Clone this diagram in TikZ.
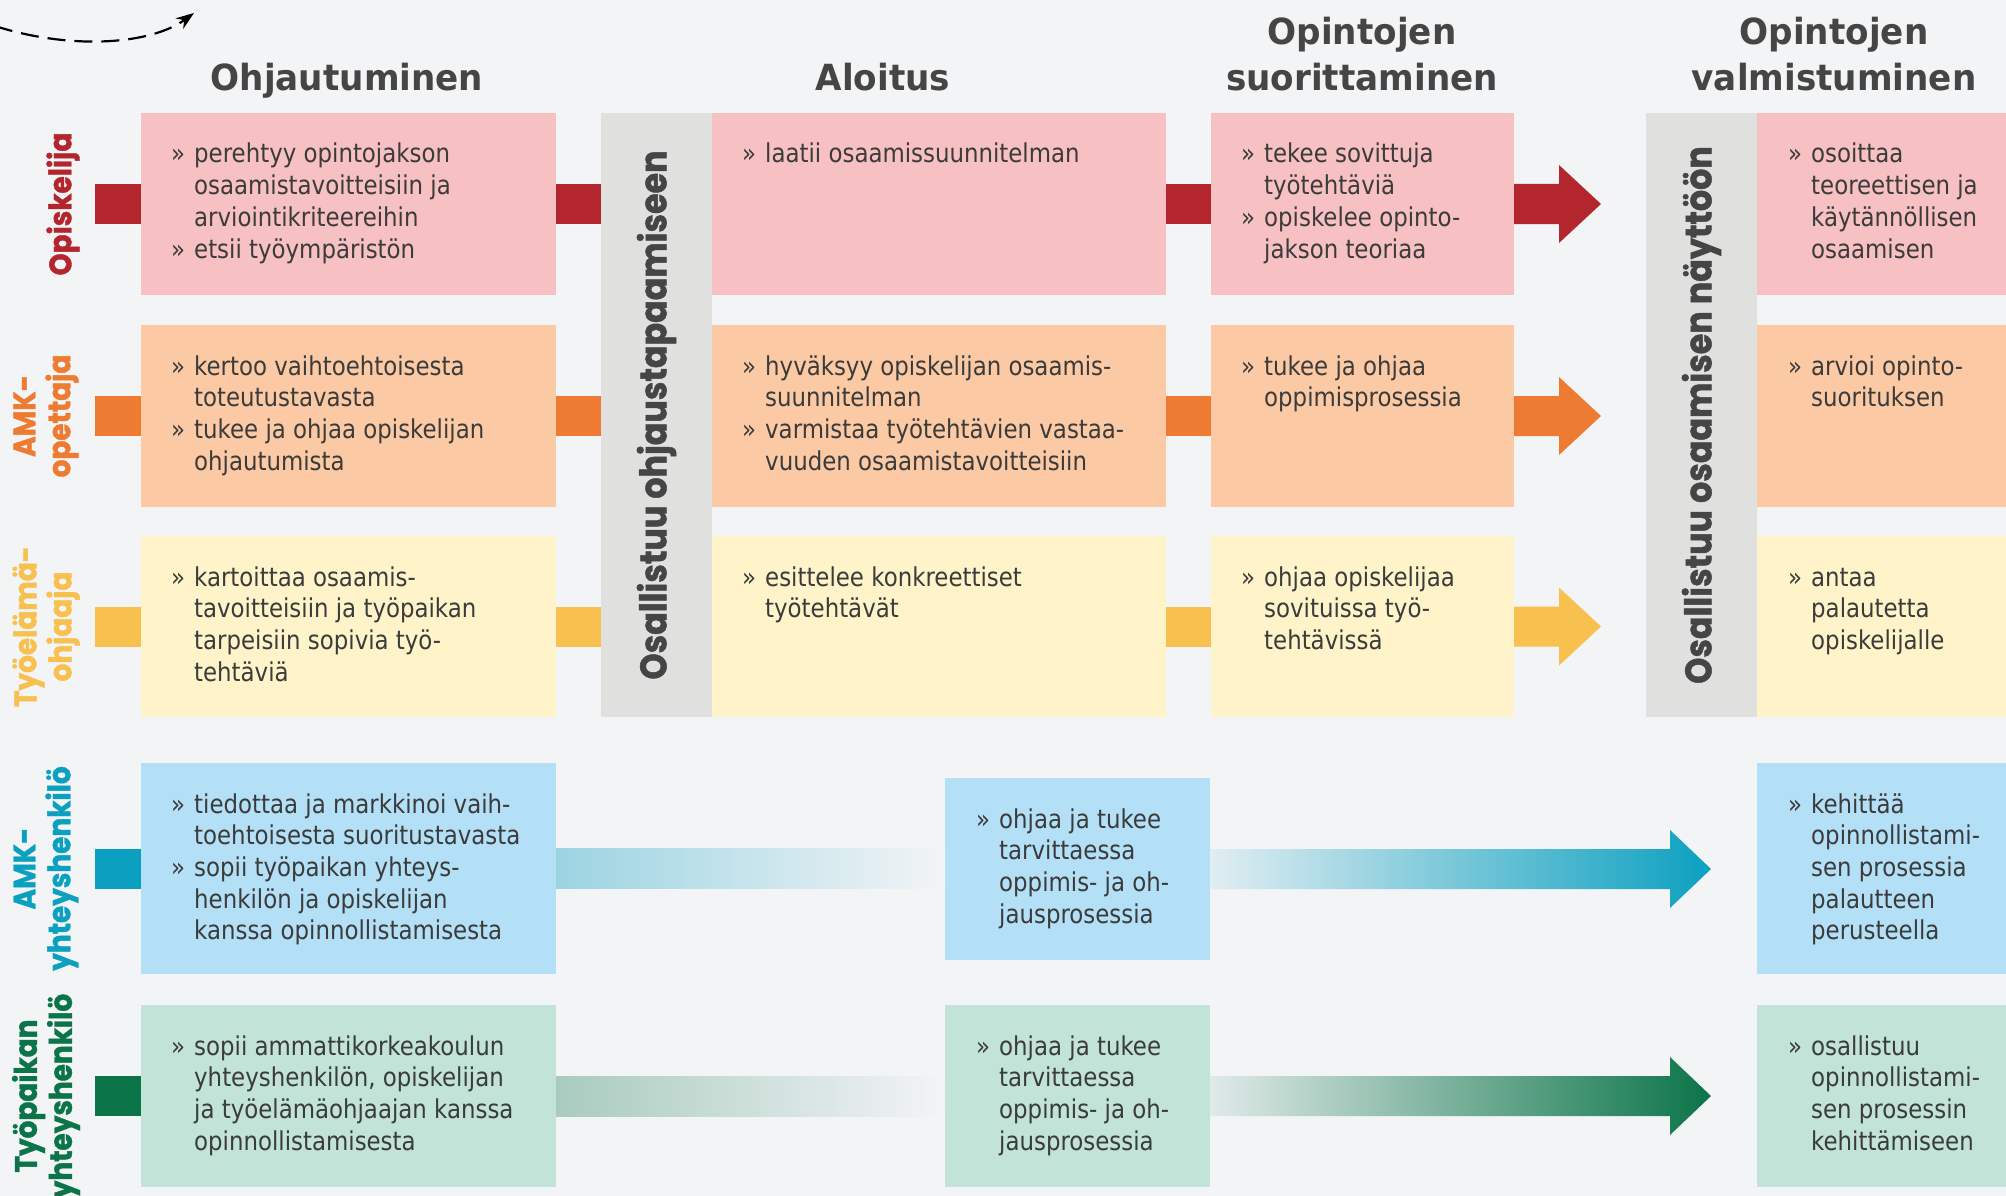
\documentclass[tikz,border=0pt]{standalone}
\usepackage{fontspec}
\usetikzlibrary{calc,arrows.meta}
\newfontfamily\bodyfont[FakeStretch=0.88]{DejaVu Sans}
\newfontfamily\headfont[FakeStretch=0.95]{DejaVu Sans}
\newfontfamily\labfont[FakeStretch=0.9,FakeBold=1.3]{Poppins}
\definecolor{bg}{HTML}{F3F4F6}
\definecolor{cred}{HTML}{B3262D}
\definecolor{cpink}{HTML}{F7C0C2}
\definecolor{corange}{HTML}{EE7B32}
\definecolor{cpeach}{HTML}{FBCAA5}
\definecolor{cyellow}{HTML}{F8C04F}
\definecolor{ccream}{HTML}{FFF4C9}
\definecolor{cteal}{HTML}{0CA0C0}
\definecolor{cblue}{HTML}{B3E0F6}
\definecolor{cgreen}{HTML}{0B7449}
\definecolor{cmint}{HTML}{C1E3D8}
\definecolor{cgray}{HTML}{E0E0DF}
\definecolor{ctext}{HTML}{3B3B3B}
\definecolor{chead}{HTML}{454545}
\newcommand\bitem[1]{\hbox{\makebox[23pt][l]{»}#1}}
\newcommand\citem[1]{\hbox{\hspace*{23pt}#1}}
\newcommand\itemsbox[1]{\vtop{\baselineskip=31.7pt\lineskiplimit=-100pt\lineskip=0pt #1}}
\newcommand\ctwo[2]{\vtop{\baselineskip=46pt\halign{\hfil##\hfil\cr#1\cr#2\cr}}}
\tikzset{
  box/.style={inner sep=0pt, outer sep=0pt, draw=none, anchor=north west},
  txt/.style={anchor=base west, inner sep=0pt, text=ctext, font=\bodyfont\fontsize{26}{31.7}\selectfont},
  head/.style={anchor=base, inner sep=0pt, text=chead, font=\headfont\bfseries\fontsize{36}{46}\selectfont},
  lab/.style={inner sep=0pt, rotate=90, align=center, font=\labfont\bfseries\fontsize{31}{35}\selectfont},
  bar/.style={inner sep=0pt, rotate=90, text=chead, font=\labfont\bfseries\fontsize{37}{44}\selectfont},
}
\newcommand\conn[3]{\fill[#1] ($(#2.east)+(0,-20)$) rectangle ($(#3.west |- #2.east)+(0,20)$);}
\newcommand\lconn[3]{\fill[#1] ($(#2)+(0,-20)$) rectangle ($(#3.west)+(0,20)$);}
\newcommand\arr[2]{\fill[#1] ($(#2.east)+(0,-20)$) -- ++(45,0) -- ++(0,-19) -- ++(42,39) -- ++(-42,39) -- ++(0,-19) -- ++(-45,0) -- cycle;}
\begin{document}
\begin{tikzpicture}[x=1pt,y=-1pt]
\useasboundingbox (0,0) rectangle (2006,1196);
\fill[bg] (0,0) rectangle (2006,1196);

% dashed arrow
\coordinate (ds) at (-5,26);
\coordinate (de) at (194,13);
\draw[dash pattern=on 18pt off 9pt, line width=2.2pt, -{Stealth[length=18pt,width=13pt]}] (ds) .. controls (70,50) and (150,45) .. (de);

% headers
\node[head] (h1) at (347,91) {Ohjautuminen};
\node[head] (h2) at (883,91) {Aloitus};
\node[head] (h3) at (1362,45) {\ctwo{Opintojen}{suorittaminen}};
\node[head] (h4) at (1834,45) {\ctwo{Opintojen}{valmistuminen}};

% gray bars
\node[box, fill=cgray, minimum width=111, minimum height=604] (g1) at (601,113) {};
\node[box, fill=cgray, minimum width=111, minimum height=604] (g2) at (1646,113) {};
\node[bar] (g1t) at (g1.center) {Osallistuu ohjaustapaamiseen};
\node[bar] (g2t) at (g2.center) {Osallistuu osaamisen näyttöön};

% row 1
\node[box, fill=cpink, minimum width=415, minimum height=182] (r1c1) at (141,113) {};
\node[box, fill=cpink, minimum width=454, minimum height=182] (r1c2) at (712,113) {};
\node[box, fill=cpink, minimum width=303, minimum height=182] (r1c3) at (1211,113) {};
\node[box, fill=cpink, minimum width=249, minimum height=182] (r1c4) at (1757,113) {};
% row 2
\node[box, fill=cpeach, minimum width=415, minimum height=182] (r2c1) at (141,325) {};
\node[box, fill=cpeach, minimum width=454, minimum height=182] (r2c2) at (712,325) {};
\node[box, fill=cpeach, minimum width=303, minimum height=182] (r2c3) at (1211,325) {};
\node[box, fill=cpeach, minimum width=249, minimum height=182] (r2c4) at (1757,325) {};
% row 3
\node[box, fill=ccream, minimum width=415, minimum height=181] (r3c1) at (141,536) {};
\node[box, fill=ccream, minimum width=454, minimum height=181] (r3c2) at (712,536) {};
\node[box, fill=ccream, minimum width=303, minimum height=181] (r3c3) at (1211,536) {};
\node[box, fill=ccream, minimum width=249, minimum height=181] (r3c4) at (1757,536) {};
% row 4
\node[box, fill=cblue, minimum width=415, minimum height=211] (r4c1) at (141,763) {};
\node[box, fill=cblue, minimum width=265, minimum height=182] (m4) at (945,778) {};
\node[box, fill=cblue, minimum width=249, minimum height=211] (r4c4) at (1757,763) {};
% row 5
\node[box, fill=cmint, minimum width=415, minimum height=182] (r5c1) at (141,1005) {};
\node[box, fill=cmint, minimum width=265, minimum height=182] (m5) at (945,1005) {};
\node[box, fill=cmint, minimum width=249, minimum height=182] (r5c4) at (1757,1005) {};

% left connectors
\coordinate (L1) at (95,204);
\coordinate (L2) at (95,416);
\coordinate (L3) at (95,626.5);
\coordinate (L4) at (95,868.5);
\coordinate (L5) at (95,1096);
\lconn{cred}{L1}{r1c1}
\lconn{corange}{L2}{r2c1}
\lconn{cyellow}{L3}{r3c1}
\lconn{cteal}{L4}{r4c1}
\lconn{cgreen}{L5}{r5c1}

% connectors rows 1-3
\conn{cred}{r1c1}{g1}
\conn{cred}{r1c2}{r1c3}
\arr{cred}{r1c3}
\conn{corange}{r2c1}{g1}
\conn{corange}{r2c2}{r2c3}
\arr{corange}{r2c3}
\conn{cyellow}{r3c1}{g1}
\conn{cyellow}{r3c2}{r3c3}
\arr{cyellow}{r3c3}

% fading arrows rows 4-5
\shade[left color=cteal!38!bg, right color=bg] ($(r4c1.east)+(0,-20)$) rectangle ($(m4.west |- r4c1.east)+(0,20)$);
\shade[left color=cteal!8!bg, right color=cteal] ($(m4.east)+(0,-20)$) -- ++(460,0) -- ++(0,-19) -- ++(41,39) -- ++(-41,39) -- ++(0,-19) -- ++(-460,0) -- cycle;
\shade[left color=cgreen!32!bg, right color=bg] ($(r5c1.east)+(0,-20)$) rectangle ($(m5.west |- r5c1.east)+(0,20)$);
\shade[left color=cgreen!8!bg, right color=cgreen] ($(m5.east)+(0,-20)$) -- ++(460,0) -- ++(0,-19) -- ++(41,39) -- ++(-41,39) -- ++(0,-19) -- ++(-460,0) -- cycle;

% row labels
\node[lab, text=cred] (l1) at (63,204) {Opiskelija};
\node[lab, text=corange] (l2) at (46,416) {AMK-\\opettaja};
\node[lab, text=cyellow] (l3) at (46,626.5) {Työelämä-\\ohjaaja};
\node[lab, text=cteal] (l4) at (46,868.5) {AMK-\\yhteyshenkilö};
\node[lab, text=cgreen] (l5) at (46,1096) {Työpaikan\\yhteyshenkilö};

% texts row 1
\node[txt] (t11) at ($(r1c1.north west)+(30,50)$) {\itemsbox{\bitem{perehtyy opintojakson}\citem{osaamistavoitteisiin ja}\citem{arviointikriteereihin}\bitem{etsii työympäristön}}};
\node[txt] (t12) at ($(r1c2.north west)+(30,50)$) {\itemsbox{\bitem{laatii osaamissuunnitelman}}};
\node[txt] (t13) at ($(r1c3.north west)+(30,50)$) {\itemsbox{\bitem{tekee sovittuja}\citem{työtehtäviä}\bitem{opiskelee opinto-}\citem{jakson teoriaa}}};
\node[txt] (t14) at ($(r1c4.north west)+(31,50)$) {\itemsbox{\bitem{osoittaa}\citem{teoreettisen ja}\citem{käytännöllisen}\citem{osaamisen}}};
% row 2
\node[txt] (t21) at ($(r2c1.north west)+(30,50)$) {\itemsbox{\bitem{kertoo vaihtoehtoisesta}\citem{toteutustavasta}\bitem{tukee ja ohjaa opiskelijan}\citem{ohjautumista}}};
\node[txt] (t22) at ($(r2c2.north west)+(30,50)$) {\itemsbox{\bitem{hyväksyy opiskelijan osaamis-}\citem{suunnitelman}\bitem{varmistaa työtehtävien vastaa-}\citem{vuuden osaamistavoitteisiin}}};
\node[txt] (t23) at ($(r2c3.north west)+(30,50)$) {\itemsbox{\bitem{tukee ja ohjaa}\citem{oppimisprosessia}}};
\node[txt] (t24) at ($(r2c4.north west)+(31,50)$) {\itemsbox{\bitem{arvioi opinto-}\citem{suorituksen}}};
% row 3
\node[txt] (t31) at ($(r3c1.north west)+(30,50)$) {\itemsbox{\bitem{kartoittaa osaamis-}\citem{tavoitteisiin ja työpaikan}\citem{tarpeisiin sopivia työ-}\citem{tehtäviä}}};
\node[txt] (t32) at ($(r3c2.north west)+(30,50)$) {\itemsbox{\bitem{esittelee konkreettiset}\citem{työtehtävät}}};
\node[txt] (t33) at ($(r3c3.north west)+(30,50)$) {\itemsbox{\bitem{ohjaa opiskelijaa}\citem{sovituissa työ-}\citem{tehtävissä}}};
\node[txt] (t34) at ($(r3c4.north west)+(31,50)$) {\itemsbox{\bitem{antaa}\citem{palautetta}\citem{opiskelijalle}}};
% row 4
\node[txt] (t41) at ($(r4c1.north west)+(30,50)$) {\itemsbox{\bitem{tiedottaa ja markkinoi vaih-}\citem{toehtoisesta suoritustavasta}\bitem{sopii työpaikan yhteys-}\citem{henkilön ja opiskelijan}\citem{kanssa opinnollistamisesta}}};
\node[txt] (t42) at ($(m4.north west)+(31,50)$) {\itemsbox{\bitem{ohjaa ja tukee}\citem{tarvittaessa}\citem{oppimis- ja oh-}\citem{jausprosessia}}};
\node[txt] (t44) at ($(r4c4.north west)+(31,50)$) {\itemsbox{\bitem{kehittää}\citem{opinnollistami-}\citem{sen prosessia}\citem{palautteen}\citem{perusteella}}};
% row 5
\node[txt] (t51) at ($(r5c1.north west)+(30,50)$) {\itemsbox{\bitem{sopii ammattikorkeakoulun}\citem{yhteyshenkilön, opiskelijan}\citem{ja työelämäohjaajan kanssa}\citem{opinnollistamisesta}}};
\node[txt] (t52) at ($(m5.north west)+(31,50)$) {\itemsbox{\bitem{ohjaa ja tukee}\citem{tarvittaessa}\citem{oppimis- ja oh-}\citem{jausprosessia}}};
\node[txt] (t54) at ($(r5c4.north west)+(31,50)$) {\itemsbox{\bitem{osallistuu}\citem{opinnollistami-}\citem{sen prosessin}\citem{kehittämiseen}}};
\end{tikzpicture}
\end{document}
